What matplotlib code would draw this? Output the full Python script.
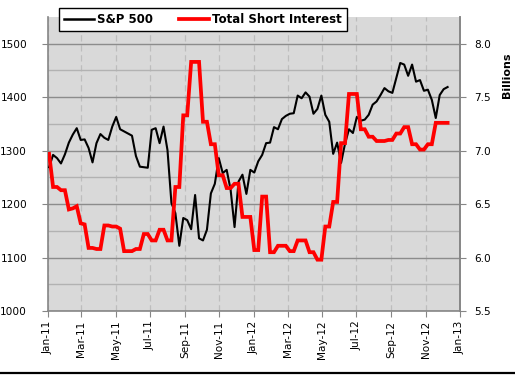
import matplotlib
matplotlib.use("Agg")
import matplotlib.pyplot as plt
import matplotlib.dates as mdates
from matplotlib.lines import Line2D
import numpy as np
import pandas as pd

start_date = "2011-01-03"

sp500 = [1269, 1292, 1286, 1276, 1293, 1315, 1330, 1342, 1320, 1321,
         1305, 1278, 1314, 1331, 1324, 1320, 1345, 1363, 1340, 1336,
         1332, 1328, 1290, 1270, 1269, 1268, 1339, 1342, 1314, 1345,
         1301, 1202, 1183, 1122, 1174, 1170, 1153, 1217, 1136, 1132,
         1152, 1220, 1238, 1286, 1258, 1264, 1227, 1157, 1242, 1255,
         1219, 1264, 1259, 1280, 1292, 1314, 1315, 1344, 1340, 1359,
         1365, 1369, 1370, 1403, 1398, 1409, 1401, 1369, 1378, 1403,
         1367, 1354, 1294, 1315, 1277, 1313, 1340, 1333, 1363, 1356,
         1358, 1367, 1386, 1392, 1404, 1417, 1411, 1408, 1436, 1464,
         1461, 1440, 1461, 1429, 1432, 1412, 1414, 1395, 1361, 1404,
         1415, 1419]

short_interest = [6.97, 6.66, 6.66, 6.63, 6.63, 6.45, 6.46, 6.48, 6.32, 6.31,
                  6.09, 6.09, 6.08, 6.08, 6.30, 6.30, 6.29, 6.29, 6.27, 6.06,
                  6.06, 6.06, 6.08, 6.08, 6.22, 6.22, 6.16, 6.16, 6.26, 6.26,
                  6.16, 6.16, 6.66, 6.66, 7.33, 7.33, 7.83, 7.83, 7.83, 7.27,
                  7.27, 7.06, 7.06, 6.77, 6.77, 6.65, 6.65, 6.69, 6.69, 6.38,
                  6.38, 6.38, 6.07, 6.07, 6.57, 6.57, 6.05, 6.05, 6.11, 6.11,
                  6.11, 6.06, 6.06, 6.16, 6.16, 6.16, 6.05, 6.05, 5.98, 5.98,
                  6.29, 6.29, 6.52, 6.52, 7.07, 7.07, 7.53, 7.53, 7.53, 7.20,
                  7.20, 7.13, 7.13, 7.09, 7.09, 7.09, 7.10, 7.10, 7.16, 7.16,
                  7.22, 7.22, 7.06, 7.06, 7.01, 7.01, 7.06, 7.06, 7.26, 7.26,
                  7.26, 7.26]

left_ticks = [1000, 1100, 1200, 1300, 1400, 1500]
right_ticks = [5.5, 6.0, 6.5, 7.0, 7.5, 8.0]
series_names = ["S&P 500", "Total Short Interest"]
right_label = "Billions"

dates = pd.date_range(start_date, periods=len(sp500), freq="W-MON")

plt.rcParams['font.family'] = ['DejaVu Sans']

W, H = 515, 375
fig = plt.figure(figsize=(W / 100, H / 100), dpi=100)
fig.patch.set_facecolor("white")

ax = fig.add_axes([48 / W, 1 - 311 / H, (460 - 48) / W, (311 - 17) / H])
ax.set_facecolor("#D9D9D9")

grid_major = "#8C8C8C"
grid_minor = "#B2B2B2"
spine_c = "#868686"

ax.set_ylim(1000, 1550)
ax.set_yticks(left_ticks)
ax.set_yticks(np.arange(1050, 1550, 100), minor=True)
ax.set_xlim(pd.Timestamp("2011-01-01"), pd.Timestamp("2013-01-01"))
ax.xaxis.set_major_locator(mdates.MonthLocator(bymonth=[1, 3, 5, 7, 9, 11]))
ax.xaxis.set_major_formatter(mdates.DateFormatter("%b-%y"))

ax.grid(True, axis="y", which="major", color=grid_major, linewidth=1.0, linestyle="-")
ax.grid(True, axis="y", which="minor", color=grid_minor, linewidth=1.0, linestyle="-")
ax.grid(True, axis="x", which="major", color="#BDBDBD", linewidth=0.9, linestyle=(0, (5, 3)))
ax.set_axisbelow(True)

ax.plot(dates, sp500, color="black", linewidth=1.5, zorder=3)

ax.spines["top"].set_visible(False)
for s in ["left", "right", "bottom"]:
    ax.spines[s].set_color(spine_c)
    ax.spines[s].set_linewidth(1.2)

ax.tick_params(axis="y", which="major", direction="out", length=4, color=spine_c,
               labelsize=7.6, pad=11, labelcolor="black")
ax.tick_params(axis="y", which="minor", length=0)
ax.tick_params(axis="x", direction="out", length=4, color=spine_c,
               labelsize=7.6, labelrotation=90, pad=3, labelcolor="black")

ax2 = ax.twinx()
ax2.set_ylim(5.5, 8.25)
ax2.set_yticks(right_ticks)
ax2.yaxis.set_major_formatter(matplotlib.ticker.FormatStrFormatter("%.1f"))
ax2.plot(dates, short_interest, color="#FF0000", linewidth=2.7, zorder=4,
         solid_joinstyle="miter")
for s in ["top", "left", "bottom"]:
    ax2.spines[s].set_visible(False)
ax2.spines["right"].set_color(spine_c)
ax2.spines["right"].set_linewidth(1.2)
ax2.tick_params(axis="y", direction="out", length=4, color=spine_c,
                labelsize=7.6, pad=6, labelcolor="black")

fig.text(507 / W, 1 - 75 / H, right_label, rotation=90, ha="center", va="center",
         fontsize=8, fontweight="bold")

handles = [Line2D([], [], color="black", linewidth=1.8),
           Line2D([], [], color="#FF0000", linewidth=2.7)]
leg = fig.legend(handles, series_names, loc="center",
                 bbox_to_anchor=(203 / W, 1 - 19.5 / H), ncol=2,
                 frameon=True, fancybox=False, framealpha=1,
                 edgecolor="black", facecolor="white",
                 prop={"size": 8.5, "weight": "bold"},
                 handlelength=2.5, handletextpad=0.3, columnspacing=2.2,
                 borderpad=0.45)
leg.get_frame().set_linewidth(1.0)

fig.add_artist(Line2D([0, 1], [1 - 373 / H, 1 - 373 / H], transform=fig.transFigure,
                      color="black", linewidth=1.6))

fig.savefig("out.png", dpi=100)
